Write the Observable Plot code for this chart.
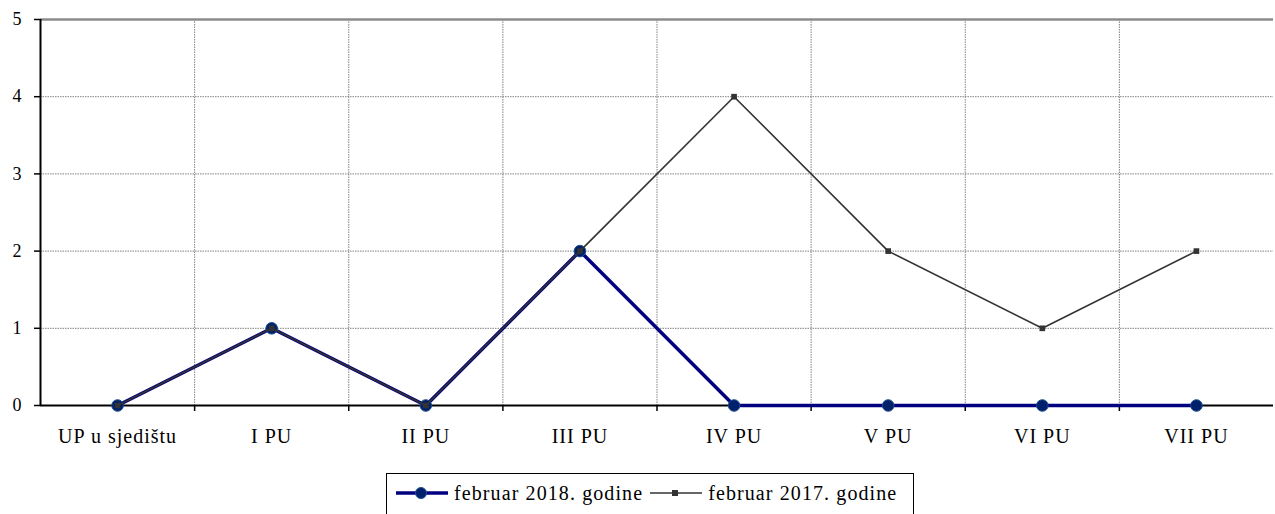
<!DOCTYPE html>
<html>
<head>
<meta charset="utf-8">
<script src="https://cdn.jsdelivr.net/npm/d3@7"></script>
<script src="https://cdn.jsdelivr.net/npm/@observablehq/plot@0.6"></script>
<style>
  body { margin: 0; background: #fff; font-family: "Liberation Serif", serif; }
  #wrap { position: relative; width: 1275px; height: 514px; overflow: hidden; }
  #legend { position: absolute; left: 386px; top: 473px; width: 528px; height: 46px; border: 1.5px solid #000;
            box-sizing: border-box; display: flex; align-items: center; padding-left: 8px; font-size: 20px; color: #000; padding-bottom: 6px;
            font-family: "Liberation Serif", serif; letter-spacing: 1.1px; }
  #legend .item { display: flex; align-items: center; margin-right: 6px; }
  #legend svg { margin-right: 5px; }
</style>
</head>
<body>
<div id="wrap">
  <div id="chart"></div>
  <div id="legend"></div>
</div>
<script>
const categories = ["UP u sjedištu", "I PU", "II PU", "III PU", "IV PU", "V PU", "VI PU", "VII PU"];
const values2018 = [0, 1, 0, 2, 0, 0, 0, 0];
const values2017 = [0, 1, 0, 2, 4, 2, 1, 2];
const seriesNames = ["februar 2018. godine", "februar 2017. godine"];
const yTicks = [0, 1, 2, 3, 4, 5];

const d2018 = categories.map((c, i) => ({i, v: values2018[i]}));
const d2017 = categories.map((c, i) => ({i, v: values2017[i]}));
const idx = categories.map((c, i) => i);
const bounds = categories.slice(1).map((c, i) => i + 0.5);
const FONT = "Liberation Serif";

const chart = Plot.plot({
  width: 1275,
  height: 450,
  marginLeft: 40,
  marginRight: 2,
  marginTop: 19,
  marginBottom: 45,
  style: {fontFamily: FONT, fontSize: "20px", color: "#000", background: "#fff"},
  x: {type: "linear", domain: [-0.5, categories.length - 0.5]},
  y: {domain: [0, 5]},
  marks: [
    Plot.ruleY(yTicks.filter(t => t > 0 && t < 5), {stroke: "#808080", strokeWidth: 1, strokeDasharray: "1.5,1"}),
    Plot.ruleX(bounds, {stroke: "#808080", strokeWidth: 1, strokeDasharray: "1.5,1"}),
    Plot.ruleY([5], {stroke: "#8c8c8c", strokeWidth: 2.5}),
    Plot.axisY({ticks: yTicks, tickSize: 6, tickPadding: 13, tickFormat: d => d, label: null,
                stroke: "#000", strokeWidth: 1.5, fontFamily: FONT, fontSize: 18}),
    Plot.axisX({ticks: bounds, tickSize: 6, tickFormat: () => "", label: null, stroke: "#000", strokeWidth: 1.5}),
    Plot.axisX({ticks: idx, tickSize: 0, tickPadding: 23, tickFormat: i => categories[i], label: null,
                fontFamily: FONT, fontSize: 20}),
    Plot.ruleX([-0.5], {stroke: "#000", strokeWidth: 2}),
    Plot.ruleY([0], {stroke: "#000", strokeWidth: 2}),
    Plot.line(d2018, {x: "i", y: "v", stroke: "#000080", strokeWidth: 3.5}),
    Plot.dot(d2018, {x: "i", y: "v", r: 5.8, fill: "#00206b", stroke: "#1d4f8c", strokeWidth: 1}),
    Plot.line(d2017, {x: "i", y: "v", stroke: "#333333", strokeWidth: 1.6}),
    Plot.dot(d2017, {x: "i", y: "v", symbol: "square", r: 3.2, fill: "#333333"})
  ]
});
chart.querySelectorAll("g[aria-label='x-axis tick label'] text").forEach(t => t.setAttribute("letter-spacing", "1px"));
document.getElementById("chart").appendChild(chart);

// legend
const legend = d3.select("#legend");
const items = [
  {name: seriesNames[0], stroke: "#000080", sw: 3.5, marker: "circle"},
  {name: seriesNames[1], stroke: "#333333", sw: 1.6, marker: "square"}
];
items.forEach(it => {
  const item = legend.append("div").attr("class", "item");
  const s = item.append("svg").attr("width", 54).attr("height", 14);
  s.append("line").attr("x1", 1).attr("x2", 53).attr("y1", 7).attr("y2", 7)
    .attr("stroke", it.stroke).attr("stroke-width", it.sw);
  if (it.marker === "circle") {
    s.append("circle").attr("cx", 26).attr("cy", 7).attr("r", 5.5).attr("fill", "#00206b").attr("stroke", "#1d4f8c");
  } else {
    s.append("rect").attr("x", 23).attr("y", 4).attr("width", 6).attr("height", 6).attr("fill", "#333");
  }
  item.append("span").text(it.name);
});
</script>
</body>
</html>
